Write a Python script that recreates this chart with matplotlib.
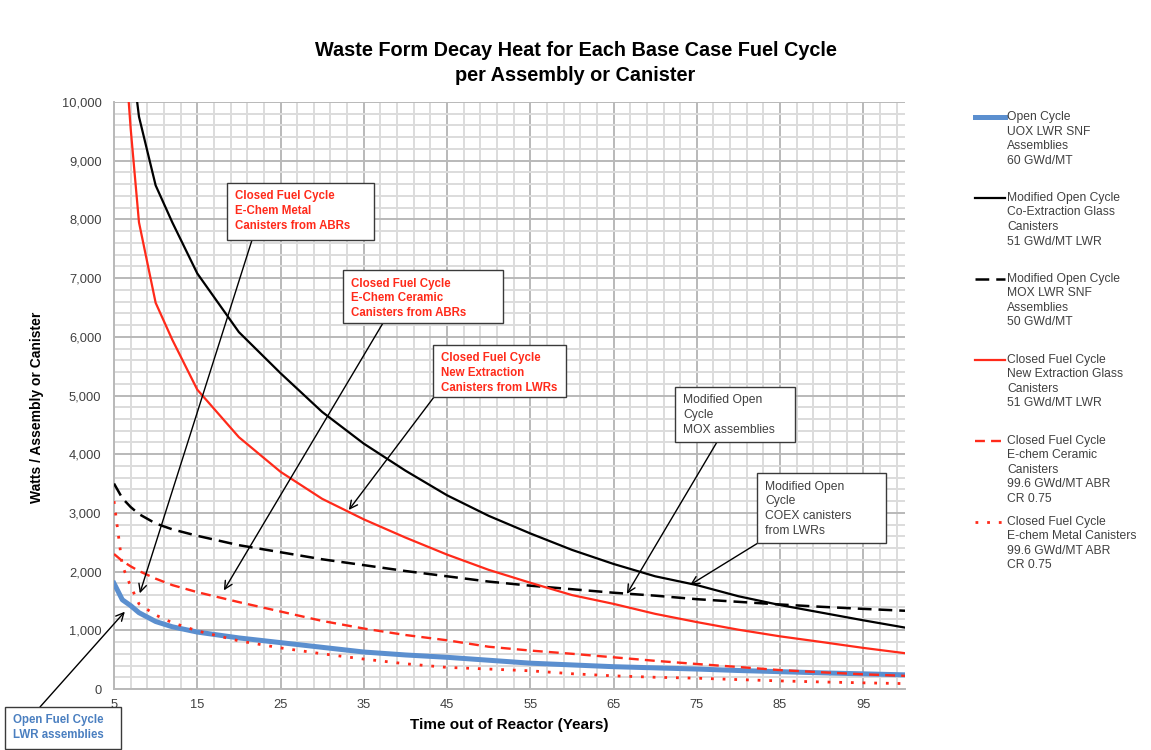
import matplotlib
matplotlib.use('Agg')
import matplotlib.pyplot as plt
from matplotlib.legend_handler import HandlerLine2D
from matplotlib.patches import Rectangle
from matplotlib.ticker import FuncFormatter

plt.rcParams['font.family'] = ['Liberation Sans', 'DejaVu Sans']

# years out of reactor
years = [5, 6, 7, 8, 10, 12, 15, 20, 25, 30, 35, 40, 45, 50,
         55, 60, 65, 70, 75, 80, 85, 90, 95, 100]

# watts per assembly / canister
uox_open = [1800, 1520, 1420, 1300, 1150, 1060, 970, 870, 790, 710, 630, 580,
            540, 490, 440, 410, 380, 360, 340, 315, 295, 275, 258, 241]
coex_glass = [16000, 13000, 10900, 9750, 8580, 7950, 7080, 6080, 5380, 4720,
              4180, 3720, 3300, 2950, 2650, 2370, 2130, 1920, 1770, 1580,
              1430, 1300, 1170, 1046]
mox_snf = [3500, 3250, 3100, 2980, 2820, 2720, 2610, 2450, 2330, 2210, 2110,
           2010, 1920, 1830, 1760, 1700, 1640, 1590, 1530, 1485, 1440, 1400,
           1365, 1333]
new_ext_glass = [16000, 11500, 9550, 7950, 6580, 5950, 5100, 4290, 3700, 3240,
                 2890, 2580, 2290, 2030, 1810, 1600, 1450, 1280, 1140, 1010,
                 897, 800, 700, 610]
echem_ceramic = [2300, 2180, 2090, 2010, 1880, 1770, 1650, 1480, 1320, 1160,
                 1030, 920, 830, 720, 655, 600, 540, 480, 426, 375, 322, 285,
                 250, 224]
echem_metal = [3200, 2100, 1750, 1450, 1260, 1130, 990, 820, 700, 600, 510,
               430, 368, 340, 310, 260, 224, 200, 184, 160, 138, 120, 105, 92]

labels = [
    'Open Cycle\nUOX LWR SNF\nAssemblies\n60 GWd/MT\n',
    'Modified Open Cycle\nCo-Extraction Glass\nCanisters\n51 GWd/MT LWR\n',
    'Modified Open Cycle\nMOX LWR SNF\nAssemblies\n50 GWd/MT\n',
    'Closed Fuel Cycle\nNew Extraction Glass\nCanisters\n51 GWd/MT LWR\n',
    'Closed Fuel Cycle\nE-chem Ceramic\nCanisters\n99.6 GWd/MT ABR\nCR 0.75',
    'Closed Fuel Cycle\nE-chem Metal Canisters\n99.6 GWd/MT ABR\nCR 0.75\n',
]

W, H = 1151, 750
RED = '#ff2a1a'
BLUE = '#5b8fcf'
GREY_TXT = '#404040'

fig = plt.figure(figsize=(W / 100, H / 100), dpi=100)
ax = fig.add_axes([114 / W, 1 - 689 / H, 791 / W, 587 / H])

ax.plot(years, uox_open, color=BLUE, lw=3.6, label=labels[0], zorder=4)
ax.plot(years, coex_glass, color='black', lw=1.6, label=labels[1], zorder=4)
ax.plot(years, mox_snf, color='black', lw=1.8, linestyle=(0, (5.5, 2.8)),
        label=labels[2], zorder=4)
ax.plot(years, new_ext_glass, color=RED, lw=1.6, label=labels[3], zorder=4)
ax.plot(years, echem_ceramic, color=RED, lw=1.7, linestyle=(0, (4.2, 2.6)),
        label=labels[4], zorder=4)
ax.plot(years, echem_metal, color=RED, lw=2.0, linestyle=(0, (1, 3.2)),
        label=labels[5], zorder=4)

ax.set_xlim(5, 100)
ax.set_ylim(0, 10000)
ax.set_xticks(range(5, 100, 10))
ax.set_xticks(range(5, 101, 2), minor=True)
ax.set_yticks(range(0, 10001, 1000))
ax.set_yticks(range(0, 10001, 200), minor=True)
ax.yaxis.set_major_formatter(FuncFormatter(lambda v, p: f'{int(v):,}'))
ax.tick_params(which='both', length=0, labelsize=9.3, colors=GREY_TXT)
ax.tick_params(axis='x', pad=7)
ax.tick_params(axis='y', pad=9)
ax.set_axisbelow(True)
ax.grid(which='minor', color='#dcdcdc', lw=1.4)
ax.grid(which='major', color='#b9b9b9', lw=1.4)
for s in ['top', 'right']:
    ax.spines[s].set_visible(False)
for s in ['left', 'bottom']:
    ax.spines[s].set_color('#b9b9b9')
    ax.spines[s].set_linewidth(1.4)

ax.set_xlabel('Time out of Reactor (Years)', fontsize=11, fontweight='bold')
ax.xaxis.set_label_coords(0.5, -0.05)
ax.set_ylabel('Watts / Assembly or Canister', fontsize=10, fontweight='bold')
ax.yaxis.set_label_coords(-0.088, 0.48)

fig.text(0.5, 1 - 63 / H,
         'Waste Form Decay Heat for Each Base Case Fuel Cycle\nper Assembly or Canister',
         ha='center', va='center', fontsize=14.3, fontweight='bold',
         linespacing=1.4)


# legend keys sit on the first line of each label, as in the original
class FirstLineHandler(HandlerLine2D):
    def create_artists(self, legend, orig_handle, xdescent, ydescent,
                       width, height, fontsize, trans):
        arts = super().create_artists(legend, orig_handle, xdescent, ydescent,
                                      width, height, fontsize, trans)
        shift = 2 * fontsize * 1.2
        for a in arts:
            a.set_ydata([y + shift for y in a.get_ydata()])
        return arts


handles, labs = ax.get_legend_handles_labels()
leg = ax.legend(handles, labs, loc='upper left',
                bbox_to_anchor=(975 / W, 1 - 111 / H),
                bbox_transform=fig.transFigure, frameon=False,
                fontsize=8.7, handlelength=2.5, handletextpad=0.15,
                borderpad=0, borderaxespad=0, labelspacing=0.9,
                handler_map={l: FirstLineHandler() for l in handles})
for t in leg.get_texts():
    t.set_color(GREY_TXT)
    t.set_linespacing(1.28)


def note(text, box, start, tip, color, weight):
    # box = (left, top, right, bottom) in pixels on the canvas
    l, t, r, b = box
    fig.patches.append(Rectangle((l / W, 1 - b / H), (r - l) / W, (b - t) / H,
                                 transform=fig.transFigure, fc='white',
                                 ec='#3a3a3a', lw=1.0, zorder=5))
    fig.text((l + 8) / W, 1 - (t + 7.5) / H, text, ha='left', va='top',
             color=color, fontweight=weight,
             fontsize=8.3 if weight == 'bold' else 8.7,
             linespacing=1.3, zorder=6)
    ax.annotate('', xy=tip, xycoords='data',
                xytext=(start[0] / W, 1 - start[1] / H),
                textcoords='figure fraction', annotation_clip=False,
                arrowprops=dict(arrowstyle='->', color='black', lw=1.0,
                                shrinkA=0, shrinkB=0, mutation_scale=14),
                zorder=7)


note('Closed Fuel Cycle\nE-Chem Metal\nCanisters from ABRs',
     (227, 183, 374, 240), (252, 240), (8.1, 1630), RED, 'bold')
note('Closed Fuel Cycle\nE-Chem Ceramic\nCanisters from ABRs',
     (343, 270, 503, 323), (383, 323), (18.2, 1680), RED, 'bold')
note('Closed Fuel Cycle\nNew Extraction\nCanisters from LWRs',
     (433, 345, 566, 397), (434, 397), (33.2, 3050), RED, 'bold')
note('Modified Open\nCycle\nMOX assemblies',
     (675, 387, 795, 442), (717, 442), (66.6, 1620), GREY_TXT, 'normal')
note('Modified Open\nCycle\nCOEX canisters\nfrom LWRs',
     (757, 473, 886, 543), (758, 543), (74.2, 1775), GREY_TXT, 'normal')
note('Open Fuel Cycle\nLWR assemblies',
     (5, 707, 121, 749), (40, 707), (6.3, 1317), '#4a7fc0', 'bold')

fig.savefig('out.png', dpi=100)
